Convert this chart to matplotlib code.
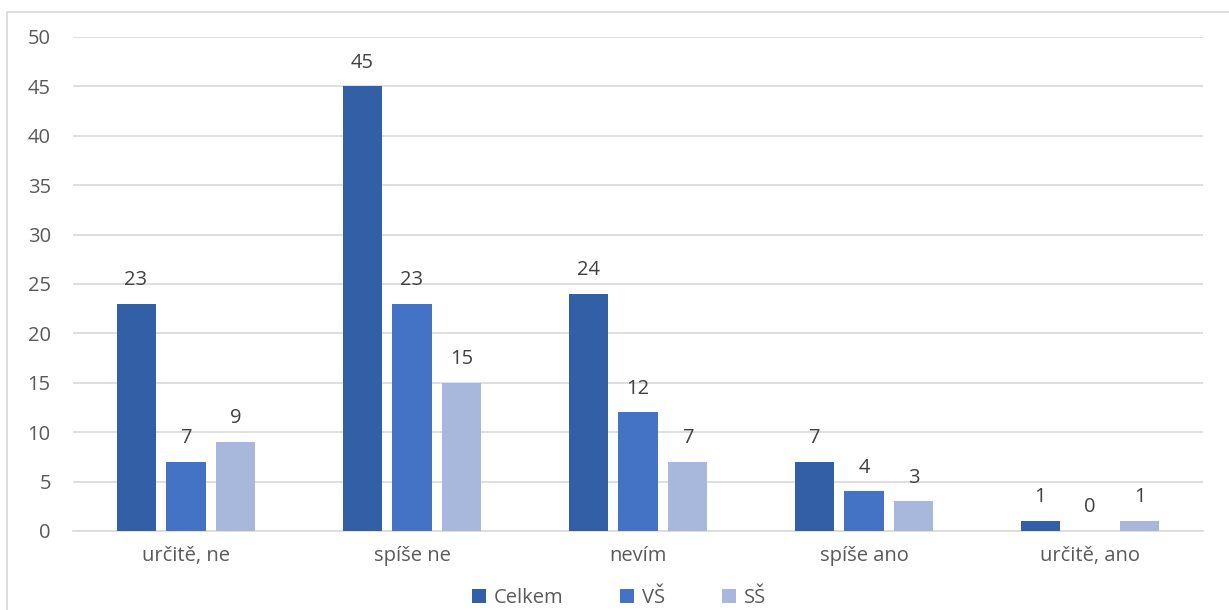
import matplotlib
matplotlib.use("Agg")
import matplotlib.pyplot as plt
import numpy as np
from matplotlib.patches import Rectangle

categories = ["určitě, ne", "spíše ne", "nevím", "spíše ano", "určitě, ano"]
series_names = ["Celkem", "VŠ", "SŠ"]
celkem = [23, 45, 24, 7, 1]
vs = [7, 23, 12, 4, 0]
ss = [9, 15, 7, 3, 1]
colors = ["#335FA6", "#4472C4", "#A8B7DC"]
yticks = [0, 5, 10, 15, 20, 25, 30, 35, 40, 45, 50]

plt.rcParams['font.family'] = ['Open Sans', 'DejaVu Sans']
FS = 14.5

fig = plt.figure(figsize=(12.29, 6.10), dpi=100)
ax = fig.add_axes([73/1229, 1-531/610, 1130/1229, (531-37)/610])

x = np.arange(len(categories))
w = 0.173
step = 0.221
for i, (vals, name) in enumerate(zip([celkem, vs, ss], series_names)):
    bars = ax.bar(x + (i-1)*step, vals, width=w, color=colors[i], label=name, zorder=3)
    for b, v in zip(bars, vals):
        ax.text(b.get_x()+b.get_width()/2, v + 1.4, str(v), ha='center', va='bottom',
                fontsize=FS, color='#404040')

ax.set_xlim(-0.5, len(categories)-0.5)
ax.set_ylim(0, 50)
ax.set_yticks(yticks)
ax.set_xticks(x)
ax.set_xticklabels(categories)
ax.yaxis.grid(True, color='#D9D9D9', linewidth=1.2, zorder=0)
ax.set_axisbelow(True)
for s in ['top', 'right', 'left']:
    ax.spines[s].set_visible(False)
ax.spines['bottom'].set_color('#D9D9D9')
ax.spines['bottom'].set_linewidth(1.2)
ax.tick_params(axis='both', length=0, labelsize=FS, colors='#595959')
ax.tick_params(axis='y', pad=16)
ax.tick_params(axis='x', pad=11)

leg = fig.legend(loc='center', bbox_to_anchor=(619/1229, 1-598/610), ncol=3, frameon=False,
                 fontsize=FS, handlelength=0.7, handleheight=0.7, columnspacing=2.8,
                 handletextpad=0.4, labelcolor='#595959')

fig.patches.append(Rectangle((7/1229, -0.05), 1.2, 1-12/610+0.05, transform=fig.transFigure,
                             fill=False, edgecolor='#D9D9D9', linewidth=1.2))

fig.savefig("out.png", dpi=100)
